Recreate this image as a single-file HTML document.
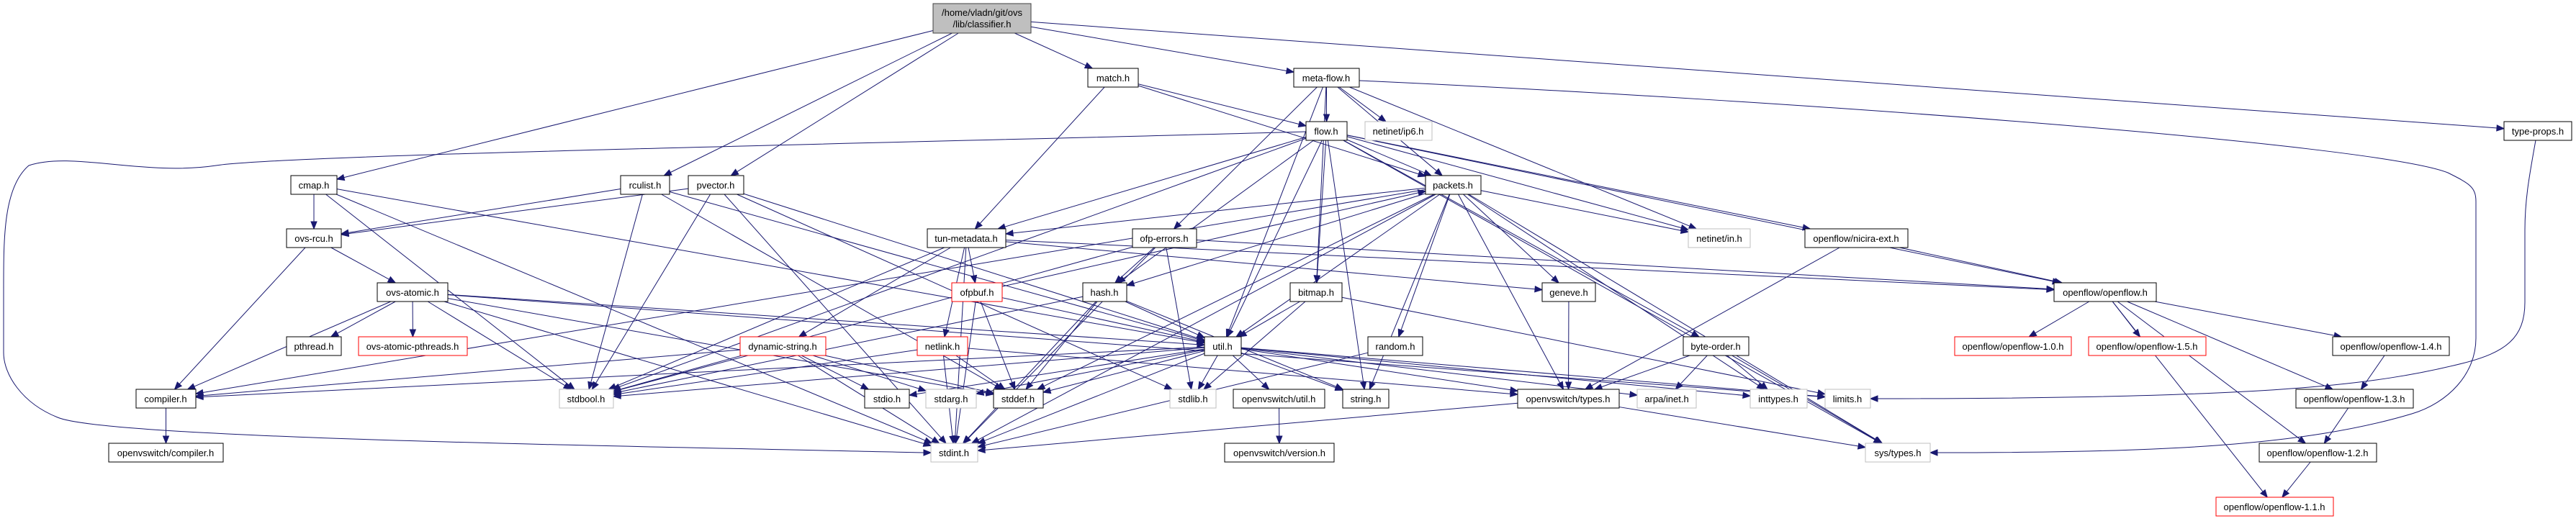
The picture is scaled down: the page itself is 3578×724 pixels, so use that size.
<!DOCTYPE html>
<html><head><meta charset="utf-8"><style>
html,body{margin:0;padding:0;background:#fff;}
svg{display:block;}
text{font-family:"Liberation Sans",sans-serif;font-size:13px;fill:#000;text-anchor:middle;}
rect{fill:#fff;stroke:#000;stroke-width:1;}
.g rect{stroke:#bfbfbf;}
.r rect{stroke:#ff0000;}
.r text{}
</style></head><body>
<svg id="s" width="3578" height="724" viewBox="0 0 3578 724" xmlns="http://www.w3.org/2000/svg">
<g id="edges" fill="none" stroke="#191970" stroke-width="1"></g>
<g id="heads" fill="#191970" stroke="#191970"></g>
<g id="nodes">
<g id="classifier"><rect x="1296" y="5" width="136" height="41" style="fill:#bfbfbf;stroke:#404040"/><text x="1364" y="22">/home/vladn/git/ovs</text><text x="1364" y="38">/lib/classifier.h</text></g>
<g id="match"><rect x="1511" y="95" width="70" height="26"/><text x="1546" y="113">match.h</text></g>
<g id="metaflow"><rect x="1797" y="95" width="91" height="26"/><text x="1842" y="113">meta-flow.h</text></g>
<g id="flow"><rect x="1814" y="169" width="57" height="26"/><text x="1842" y="187">flow.h</text></g>
<g id="ip6" class="g"><rect x="1896" y="169" width="93" height="26"/><text x="1942" y="187">netinet/ip6.h</text></g>
<g id="typeprops"><rect x="3478" y="169" width="94" height="26"/><text x="3525" y="187">type-props.h</text></g>
<g id="cmap"><rect x="404" y="244" width="64" height="26"/><text x="436" y="262">cmap.h</text></g>
<g id="rculist"><rect x="862" y="244" width="68" height="26"/><text x="896" y="262">rculist.h</text></g>
<g id="pvector"><rect x="956" y="244" width="77" height="26"/><text x="994" y="262">pvector.h</text></g>
<g id="packets"><rect x="1980" y="244" width="77" height="26"/><text x="2018" y="262">packets.h</text></g>
<g id="ovsrcu"><rect x="398" y="318" width="76" height="26"/><text x="436" y="336">ovs-rcu.h</text></g>
<g id="tunmeta"><rect x="1288" y="318" width="109" height="26"/><text x="1342" y="336">tun-metadata.h</text></g>
<g id="ofperrors"><rect x="1573" y="318" width="89" height="26"/><text x="1617" y="336">ofp-errors.h</text></g>
<g id="in" class="g"><rect x="2345" y="318" width="86" height="26"/><text x="2388" y="336">netinet/in.h</text></g>
<g id="nicira"><rect x="2507" y="318" width="143" height="26"/><text x="2578" y="336">openflow/nicira-ext.h</text></g>
<g id="atomic"><rect x="524" y="393" width="98" height="26"/><text x="573" y="411">ovs-atomic.h</text></g>
<g id="ofpbuf" class="r"><rect x="1322" y="393" width="70" height="26"/><text x="1357" y="411">ofpbuf.h</text></g>
<g id="hash"><rect x="1504" y="393" width="61" height="26"/><text x="1534" y="411">hash.h</text></g>
<g id="bitmap"><rect x="1792" y="393" width="72" height="26"/><text x="1828" y="411">bitmap.h</text></g>
<g id="geneve"><rect x="2142" y="393" width="74" height="26"/><text x="2179" y="411">geneve.h</text></g>
<g id="openflow"><rect x="2853" y="393" width="142" height="26"/><text x="2924" y="411">openflow/openflow.h</text></g>
<g id="pthread"><rect x="398" y="468" width="76" height="26"/><text x="436" y="486">pthread.h</text></g>
<g id="atomicpt" class="r"><rect x="498" y="468" width="151" height="26"/><text x="573" y="486">ovs-atomic-pthreads.h</text></g>
<g id="dynstr" class="r"><rect x="1028" y="468" width="119" height="26"/><text x="1087" y="486">dynamic-string.h</text></g>
<g id="netlink" class="r"><rect x="1274" y="468" width="70" height="26"/><text x="1309" y="486">netlink.h</text></g>
<g id="util"><rect x="1673" y="468" width="51" height="26"/><text x="1698" y="486">util.h</text></g>
<g id="random"><rect x="1900" y="468" width="76" height="26"/><text x="1938" y="486">random.h</text></g>
<g id="byteorder"><rect x="2338" y="468" width="91" height="26"/><text x="2383" y="486">byte-order.h</text></g>
<g id="of10" class="r"><rect x="2715" y="468" width="162" height="26"/><text x="2796" y="486">openflow/openflow-1.0.h</text></g>
<g id="of15" class="r"><rect x="2901" y="468" width="163" height="26"/><text x="2982" y="486">openflow/openflow-1.5.h</text></g>
<g id="of14"><rect x="3240" y="468" width="162" height="26"/><text x="3321" y="486">openflow/openflow-1.4.h</text></g>
<g id="compiler"><rect x="189" y="541" width="83" height="26"/><text x="230" y="559">compiler.h</text></g>
<g id="stdbool" class="g"><rect x="777" y="541" width="75" height="26"/><text x="814" y="559">stdbool.h</text></g>
<g id="stdio"><rect x="1201" y="541" width="62" height="26"/><text x="1232" y="559">stdio.h</text></g>
<g id="stdarg" class="g"><rect x="1286" y="541" width="70" height="26"/><text x="1321" y="559">stdarg.h</text></g>
<g id="stddef"><rect x="1380" y="541" width="69" height="26"/><text x="1414" y="559">stddef.h</text></g>
<g id="stdlib" class="g"><rect x="1625" y="541" width="64" height="26"/><text x="1657" y="559">stdlib.h</text></g>
<g id="ovsutil"><rect x="1713" y="541" width="127" height="26"/><text x="1776" y="559">openvswitch/util.h</text></g>
<g id="string"><rect x="1865" y="541" width="64" height="26"/><text x="1897" y="559">string.h</text></g>
<g id="types"><rect x="2108" y="541" width="141" height="26"/><text x="2178" y="559">openvswitch/types.h</text></g>
<g id="arpa" class="g"><rect x="2274" y="541" width="82" height="26"/><text x="2315" y="559">arpa/inet.h</text></g>
<g id="inttypes" class="g"><rect x="2431" y="541" width="79" height="26"/><text x="2470" y="559">inttypes.h</text></g>
<g id="limits" class="g"><rect x="2535" y="541" width="63" height="26"/><text x="2566" y="559">limits.h</text></g>
<g id="of13"><rect x="3189" y="541" width="163" height="26"/><text x="3270" y="559">openflow/openflow-1.3.h</text></g>
<g id="ovscompiler"><rect x="151" y="616" width="159" height="26"/><text x="230" y="634">openvswitch/compiler.h</text></g>
<g id="stdint" class="g"><rect x="1293" y="616" width="65" height="26"/><text x="1325" y="634">stdint.h</text></g>
<g id="version"><rect x="1701" y="616" width="152" height="26"/><text x="1777" y="634">openvswitch/version.h</text></g>
<g id="systypes" class="g"><rect x="2591" y="616" width="90" height="26"/><text x="2636" y="634">sys/types.h</text></g>
<g id="of12"><rect x="3138" y="616" width="163" height="26"/><text x="3219" y="634">openflow/openflow-1.2.h</text></g>
<g id="of11" class="r"><rect x="3078" y="691" width="163" height="26"/><text x="3159" y="709">openflow/openflow-1.1.h</text></g>
</g>
</svg>
<script>
(function(){
var NS="http://www.w3.org/2000/svg";
function box(id){var r=document.getElementById(id).querySelector('rect');
return {x:+r.getAttribute('x'),y:+r.getAttribute('y'),w:+r.getAttribute('width'),h:+r.getAttribute('height')};}
function clip(b,px,py,tx,ty){ // point on boundary of b from center towards (tx,ty)
var cx=b.x+b.w/2,cy=b.y+b.h/2,dx=tx-cx,dy=ty-cy;
var sx=dx?(b.w/2)/Math.abs(dx):1e9, sy=dy?(b.h/2)/Math.abs(dy):1e9, s=Math.min(sx,sy);
return [cx+dx*s,cy+dy*s];}
var E=document.getElementById('edges'),H=document.getElementById('heads');
function head(x,y,ux,uy){var L=10,W=4;var bx=x-ux*L,by=y-uy*L;
var p=document.createElementNS(NS,'polygon');
p.setAttribute('points',x+','+y+' '+(bx-uy*W)+','+(by+ux*W)+' '+(bx+uy*W)+','+(by-ux*W));H.appendChild(p);}
function edge(a,b){var A=box(a),B=box(b);
var ac=[A.x+A.w/2,A.y+A.h/2],bc=[B.x+B.w/2,B.y+B.h/2];
var p1=clip(A,0,0,bc[0],bc[1]),p2=clip(B,0,0,ac[0],ac[1]);
var dx=p2[0]-p1[0],dy=p2[1]-p1[1],l=Math.hypot(dx,dy),ux=dx/l,uy=dy/l;
var l1=document.createElementNS(NS,'line');
l1.setAttribute('x1',p1[0]);l1.setAttribute('y1',p1[1]);l1.setAttribute('x2',p2[0]-ux*9);l1.setAttribute('y2',p2[1]-uy*9);
E.appendChild(l1);head(p2[0],p2[1],ux,uy);}
function path(d,hx,hy,ux,uy){var p=document.createElementNS(NS,'path');p.setAttribute('d',d);E.appendChild(p);head(hx,hy,ux,uy);}
var L=[
['classifier','cmap'],['classifier','rculist'],['classifier','pvector'],['classifier','match'],['classifier','metaflow'],['classifier','typeprops'],
['match','flow'],['match','packets'],['match','tunmeta'],
['metaflow','flow'],['metaflow','ip6'],['metaflow','packets'],['metaflow','ofperrors'],['metaflow','util'],['metaflow','bitmap'],['metaflow','in'],
['flow','packets'],['flow','util'],['flow','bitmap'],['flow','string'],['flow','stdbool'],['flow','hash'],['flow','in'],['flow','nicira'],['flow','openflow'],['flow','byteorder'],['flow','systypes'],['flow','tunmeta'],
['packets','tunmeta'],['packets','util'],['packets','hash'],['packets','random'],['packets','geneve'],['packets','types'],['packets','string'],['packets','stdint'],['packets','in'],['packets','inttypes'],['packets','systypes'],['packets','compiler'],['packets','stddef'],
['cmap','ovsrcu'],['cmap','util'],['cmap','stdbool'],['cmap','stdint'],
['rculist','ovsrcu'],['rculist','util'],['rculist','stdbool'],['rculist','stddef'],
['pvector','ovsrcu'],['pvector','util'],['pvector','stdbool'],['pvector','stdint'],['pvector','stdlib'],
['ovsrcu','atomic'],['ovsrcu','compiler'],
['atomic','pthread'],['atomic','atomicpt'],['atomic','compiler'],['atomic','stdbool'],['atomic','stddef'],['atomic','stdint'],['atomic','util'],['atomic','limits'],
['tunmeta','ofpbuf'],['tunmeta','netlink'],['tunmeta','dynstr'],['tunmeta','openflow'],['tunmeta','geneve'],['tunmeta','stdint'],['tunmeta','stdbool'],
['ofperrors','hash'],['ofperrors','openflow'],['ofperrors','stdint'],['ofperrors','stdbool'],['ofperrors','stdlib'],
['ofpbuf','util'],['ofpbuf','stddef'],['ofpbuf','stdint'],['ofpbuf','packets'],
['hash','util'],['hash','stdbool'],['hash','stddef'],['hash','stdint'],['hash','string'],
['bitmap','util'],['bitmap','limits'],['bitmap','stdlib'],
['dynstr','stdio'],['dynstr','stdarg'],['dynstr','stddef'],['dynstr','stdbool'],['dynstr','stdint'],['dynstr','compiler'],
['netlink','stdint'],['netlink','stddef'],['netlink','stdbool'],['netlink','types'],
['util','compiler'],['util','stdbool'],['util','stddef'],['util','stdio'],['util','stdarg'],['util','stdint'],['util','stdlib'],['util','ovsutil'],['util','string'],['util','types'],['util','arpa'],['util','inttypes'],['util','limits'],
['random','stdint'],['geneve','types'],
['byteorder','arpa'],['byteorder','inttypes'],['byteorder','types'],['byteorder','systypes'],
['nicira','openflow'],['nicira','types'],
['openflow','of10'],['openflow','of15'],['openflow','of14'],['openflow','of13'],['openflow','of12'],['openflow','of11'],
['of14','of13'],['of13','of12'],['of12','of11'],
['ovsutil','version'],['types','stdint'],['types','systypes'],['compiler','ovscompiler']
];
L.forEach(function(e){edge(e[0],e[1]);});
// special curved edges
path('M1814,183 C1200,200 400,215 300,230 C200,245 100,210 40,230 C5,260 5,330 5,400 L5,490 C5,520 30,560 80,580 C150,610 900,620 1283,629',1293,629,1,0);
path('M1888,112 C2500,140 3300,200 3400,240 C3430,255 3439,260 3439,280 L3439,470 C3439,520 3400,560 3350,575 C3200,620 3000,629 2691,629',2681,629,-1,0);
path('M3522,195 C3512,250 3507,280 3507,320 L3507,420 C3507,470 3480,490 3420,505 C3300,535 3150,554 2608,554',2598,554,-1,0);
})();
</script>
</body></html>
